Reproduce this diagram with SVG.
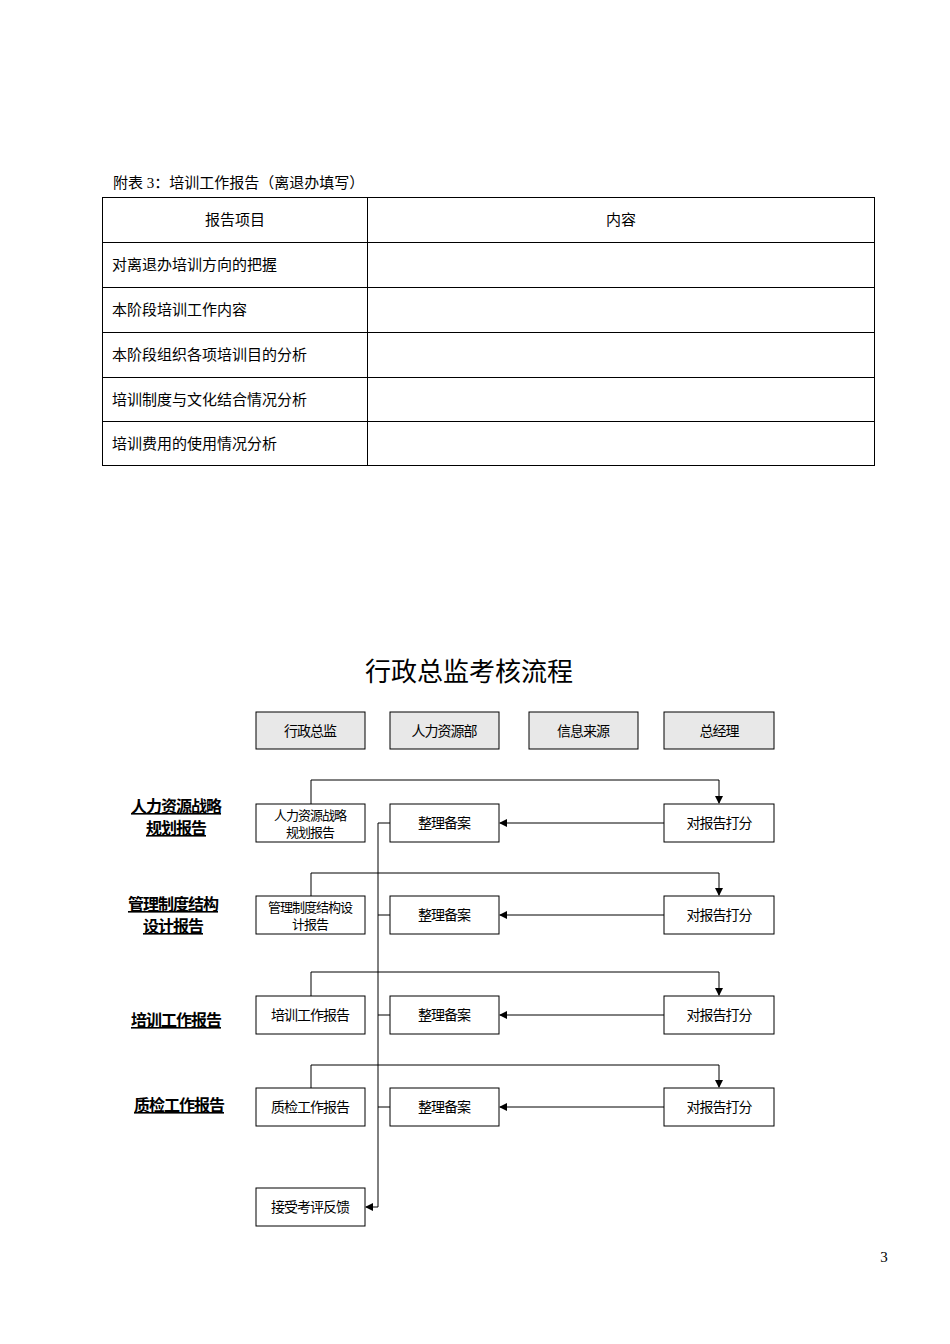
<svg xmlns="http://www.w3.org/2000/svg" width="950" height="1344" viewBox="0 0 950 1344">
<style>
.t{font-family:"Liberation Serif","Noto Sans CJK SC",serif;font-size:15px;fill:#000}
.b{fill:#fff;stroke:#000;stroke-width:1}
.h{fill:#e8e8e8;stroke:#000;stroke-width:1}
.n{font-family:"Noto Sans CJK SC",sans-serif;font-size:14px;fill:#000;text-anchor:middle;letter-spacing:-1px}
.s{font-size:13px}
.l{font-family:"Noto Sans CJK SC",sans-serif;font-size:16px;font-weight:bold;text-anchor:middle;text-decoration:underline;letter-spacing:-1px}
.c{stroke:#000;stroke-width:1;fill:none}
</style>
<defs><marker id="a" markerWidth="8" markerHeight="8" refX="7" refY="4" orient="auto" markerUnits="userSpaceOnUse"><path d="M0,0L8,4L0,8z" fill="#000"/></marker></defs>
<rect width="950" height="1344" fill="#fff"/>
<g id="table">
<text class="t" x="113" y="188">附表 3：培训工作报告（离退办填写）</text>
<rect x="102.5" y="197.5" width="772" height="268" fill="none" stroke="#000"/>
<path d="M367.5 197.5V465.5M102.5 242.5H874.5M102.5 287.5H874.5M102.5 332.5H874.5M102.5 377.5H874.5M102.5 421.5H874.5" stroke="#000"/>
<text class="t" x="235" y="225" text-anchor="middle">报告项目</text>
<text class="t" x="621" y="225" text-anchor="middle">内容</text>
<text class="t" x="112" y="270">对离退办培训方向的把握</text>
<text class="t" x="112" y="315">本阶段培训工作内容</text>
<text class="t" x="112" y="360">本阶段组织各项培训目的分析</text>
<text class="t" x="112" y="405">培训制度与文化结合情况分析</text>
<text class="t" x="112" y="449">培训费用的使用情况分析</text>
</g>
<text x="469" y="681" font-family="Noto Sans CJK SC,sans-serif" font-size="26" text-anchor="middle">行政总监考核流程</text>
<g id="headers">
<g id="h1"><rect class="h" x="256" y="712" width="109" height="37"/><text class="n" x="310" y="736">行政总监</text></g>
<g id="h2"><rect class="h" x="390" y="712" width="109" height="37"/><text class="n" x="444" y="736">人力资源部</text></g>
<g id="h3"><rect class="h" x="529" y="712" width="109" height="37"/><text class="n" x="583" y="736">信息来源</text></g>
<g id="h4"><rect class="h" x="664" y="712" width="110" height="37"/><text class="n" x="719" y="736">总经理</text></g>
</g>
<g id="labels">
<text class="l" x="176" y="812">人力资源战略</text><text class="l" x="176" y="834">规划报告</text>
<text class="l" x="173" y="910">管理制度结构</text><text class="l" x="173" y="932">设计报告</text>
<text class="l" x="176" y="1026">培训工作报告</text>
<text class="l" x="179" y="1111">质检工作报告</text>
</g>
<g id="connectors">
<path class="c" d="M311 804V780H719V803" marker-end="url(#a)"/>
<path class="c" d="M311 896V873H719V895" marker-end="url(#a)"/>
<path class="c" d="M311 996V972H719V995" marker-end="url(#a)"/>
<path class="c" d="M311 1088V1065H719V1087" marker-end="url(#a)"/>
<path class="c" d="M664 823H500" marker-end="url(#a)"/>
<path class="c" d="M664 915H500" marker-end="url(#a)"/>
<path class="c" d="M664 1015H500" marker-end="url(#a)"/>
<path class="c" d="M664 1107H500" marker-end="url(#a)"/>
<path class="c" d="M390 823H378V1207H366" marker-end="url(#a)"/>
<path class="c" d="M378 915H390M378 1015H390M378 1107H390"/>
</g>
<g id="r1">
<g id="n1a"><rect class="b" x="256" y="804" width="109" height="38"/><text class="n s" x="310" y="820">人力资源战略</text><text class="n s" x="310" y="837">规划报告</text></g>
<g id="n1b"><rect class="b" x="390" y="804" width="109" height="38"/><text class="n" x="444" y="828">整理备案</text></g>
<g id="n1c"><rect class="b" x="664" y="804" width="110" height="38"/><text class="n" x="719" y="828">对报告打分</text></g>
</g>
<g id="r2">
<g id="n2a"><rect class="b" x="256" y="896" width="109" height="38"/><text class="n s" x="310" y="912">管理制度结构设</text><text class="n s" x="310" y="929">计报告</text></g>
<g id="n2b"><rect class="b" x="390" y="896" width="109" height="38"/><text class="n" x="444" y="920">整理备案</text></g>
<g id="n2c"><rect class="b" x="664" y="896" width="110" height="38"/><text class="n" x="719" y="920">对报告打分</text></g>
</g>
<g id="r3">
<g id="n3a"><rect class="b" x="256" y="996" width="109" height="38"/><text class="n" x="310" y="1020">培训工作报告</text></g>
<g id="n3b"><rect class="b" x="390" y="996" width="109" height="38"/><text class="n" x="444" y="1020">整理备案</text></g>
<g id="n3c"><rect class="b" x="664" y="996" width="110" height="38"/><text class="n" x="719" y="1020">对报告打分</text></g>
</g>
<g id="r4">
<g id="n4a"><rect class="b" x="256" y="1088" width="109" height="38"/><text class="n" x="310" y="1112">质检工作报告</text></g>
<g id="n4b"><rect class="b" x="390" y="1088" width="109" height="38"/><text class="n" x="444" y="1112">整理备案</text></g>
<g id="n4c"><rect class="b" x="664" y="1088" width="110" height="38"/><text class="n" x="719" y="1112">对报告打分</text></g>
</g>
<g id="n5"><rect class="b" x="256" y="1188" width="109" height="38"/><text class="n" x="310" y="1212">接受考评反馈</text></g>
<text class="t" x="884" y="1262" font-size="13" text-anchor="middle">3</text>
</svg>
